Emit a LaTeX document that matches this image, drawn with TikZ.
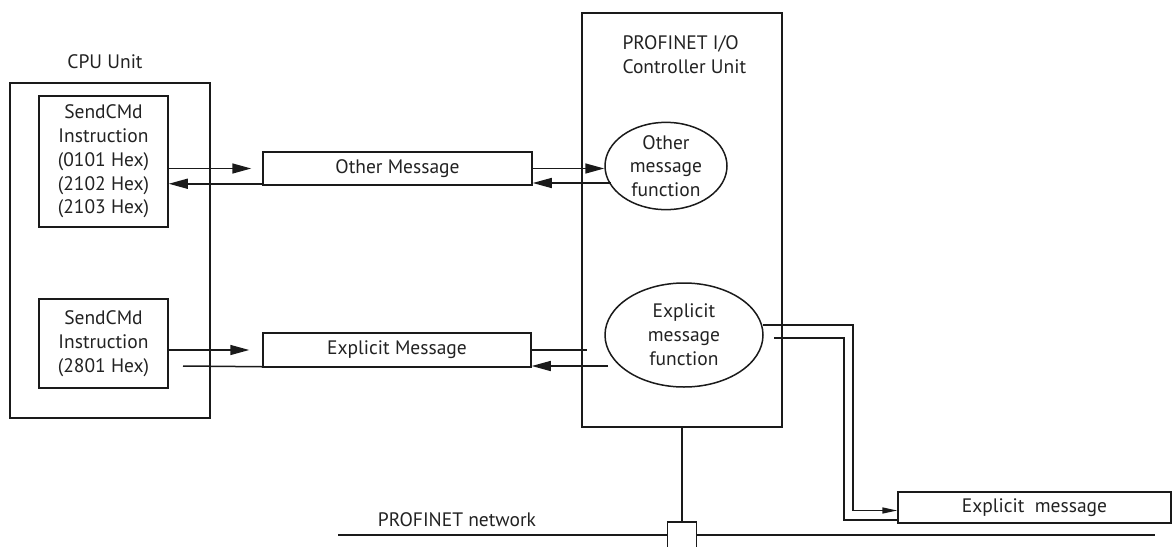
\documentclass[tikz,border=0pt]{standalone}
\usepackage{fontspec}
\setmainfont{PT Sans}
\usetikzlibrary{arrows.meta,shapes.geometric,calc}
\definecolor{ink}{HTML}{1A1A1A}
\definecolor{txt}{HTML}{222222}
\begin{document}
\begin{tikzpicture}[x=1pt,y=-1pt,
  every node/.style={font=\fontsize{19.5}{23.8}\selectfont, text=txt},
  line/.style={line width=1.5pt, draw=ink},
  box/.style={draw=ink, line width=1.5pt, rectangle, inner sep=0pt, align=center},
  ell/.style={draw=ink, ellipse, line width=1.5pt, inner sep=0pt, align=center},
  arr/.style={line, -{Triangle[length=19pt,width=10pt]}},
  arrs/.style={line, -{Triangle[length=15pt,width=6pt]}},
]
\useasboundingbox (0,0) rectangle (1172,546);
\clip (0,0) rectangle (1172,546);

% CPU unit
\node[box, minimum width=200pt, minimum height=335pt] (cpu) at (110,250.5) {};
\node (cpulabel) at (105,62) {CPU Unit};
\node[box, minimum width=129pt, minimum height=131pt] (send1) at (103.5,161.5)
  {SendCMd\\Instruction\\(0101 Hex)\\(2102 Hex)\\(2103 Hex)};
\node[box, minimum width=129pt, minimum height=89pt] (send2) at (103.5,343.5)
  {SendCMd\\Instruction\\(2801 Hex)};

% messages
\node[box, minimum width=269pt, minimum height=33pt] (other) at (397.5,168.5) {Other Message};
\node[box, minimum width=268pt, minimum height=34pt] (explicit) at (397,350) {Explicit Message};

% controller
\node[box, minimum width=200pt, minimum height=414pt] (ctrl) at (682,220) {};
\node[anchor=west, align=left] (ctrllabel) at (619,55) {PROFINET I/O\\Controller Unit};
\node[ell, minimum width=122pt, minimum height=78pt] (ofunc) at (666,166) {Other\\message\\function};
\node[ell, minimum width=158pt, minimum height=104pt] (efunc) at (684,335) {Explicit\\message\\function};

% explicit message box (bottom right)
\node[box, minimum width=273pt, minimum height=31pt] (emsg) at (1034.5,507.5) {Explicit\ \ message};

% network
\coordinate (nl) at (338,535);
\coordinate (nr) at (1155,535);
\draw[line] (nl) -- (nr);
\node[box, fill=white, minimum width=29pt, minimum height=30pt] (tap) at (682,537) {};
\node (netlabel) at (457,520) {PROFINET network};
\draw[line] (ctrl.south) -- (tap.north);

% other message arrows
\draw[arr, shorten >=11pt] (send1.east |- other.west) -- (other.west);
\draw[arr] ([yshift=2pt]other.south west) -- ([yshift=2pt]send1.east |- other.south west);
\draw[arr] (other.east) -- (other.east -| ofunc.west);
\coordinate (o2) at (611,183);
\draw[arr] (o2) -- (o2 -| other.east);

% explicit message arrows
\draw[arr, shorten >=13pt] (send2.east |- explicit.west) -- (explicit.west);
\coordinate (e1) at (183,366);
\draw[line] ([yshift=1pt]explicit.south west) -- (e1);
\coordinate (e2) at (587,350);
\draw[line] (explicit.east) -- (e2);
\coordinate (e3) at (608,366);
\draw[arr] (e3) -- (e3 -| explicit.east);

% explicit function to bottom box
\coordinate (eo1) at (763,325);
\coordinate (eo2) at (774,338);
\coordinate (r1) at (853,0);
\coordinate (r2) at (844,0);
\draw[arrs] (eo1) -| ([yshift=-3pt]emsg.west -| r1) -- ([yshift=-3pt]emsg.west);
\draw[line] (eo2) -| ([yshift=4pt]emsg.south west -| r2) -- ([yshift=4pt]emsg.south west);
\end{tikzpicture}
\end{document}
